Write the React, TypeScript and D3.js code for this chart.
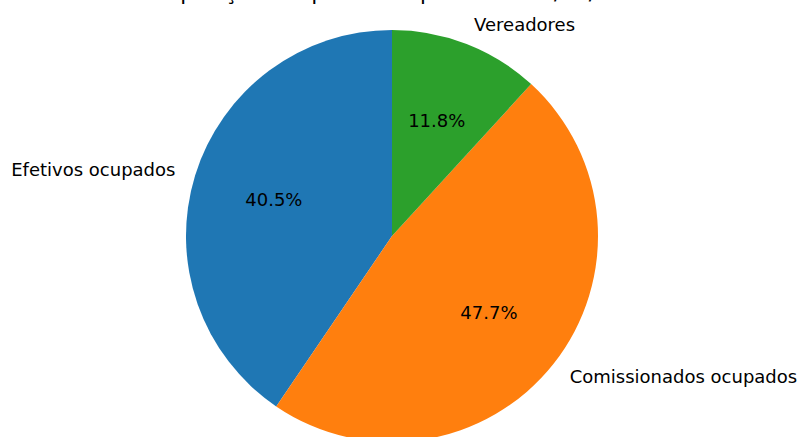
import React from "react";
import * as d3 from "d3";

const categories = ["Efetivos ocupados", "Comissionados ocupados", "Vereadores"];
const values = [40.5, 47.7, 11.8];
const colors = ["#1f77b4", "#ff7f0e", "#2ca02c"];
const title = "Composição do quadro de pessoal – 01/01/2025";

const W = 800;
const H = 437;
const cx = 392;
const cy = 236;
const R = 206;

export default function App() {
  const total = d3.sum(values);
  // matplotlib: startangle 90, counterclockwise
  const pie = d3
    .pie<number>()
    .sort(null)
    .startAngle(0)
    .endAngle(-2 * Math.PI)(values);
  const arc = d3.arc<d3.PieArcDatum<number>>().innerRadius(0).outerRadius(R);
  const font = "DejaVu Sans, sans-serif";
  const fs = 18;

  return (
    <svg
      width={W}
      height={H}
      style={{ position: "absolute", left: 0, top: 0 }}
    >
      <rect width={W} height={H} fill="#fff" />
      <text
        x={391}
        y={0}
        textAnchor="middle"
        fontFamily={font}
        fontSize={21.6}
        fill="#000"
      >
        {title}
      </text>
      <g transform={`translate(${cx},${cy})`}>
        {pie.map((d, i) => (
          <path key={i} d={arc(d) || ""} fill={colors[i]} />
        ))}
        {pie.map((d, i) => {
          const mid = (d.startAngle + d.endAngle) / 2; // d3 angle: 0 at top, clockwise
          const sx = Math.sin(mid);
          const sy = -Math.cos(mid);
          const lx = 1.1 * R * sx;
          const ly = 1.1 * R * sy;
          const px = 0.6 * R * sx;
          const py = 0.6 * R * sy;
          const pct = ((values[i] / total) * 100).toFixed(1) + "%";
          return (
            <g key={"t" + i}>
              <text
                x={lx}
                y={ly}
                textAnchor={lx > 0 ? "start" : "end"}
                dominantBaseline="central"
                fontFamily={font}
                fontSize={fs}
                fill="#000"
              >
                {categories[i]}
              </text>
              <text
                x={px}
                y={py}
                textAnchor="middle"
                dominantBaseline="central"
                fontFamily={font}
                fontSize={fs}
                fill="#000"
              >
                {pct}
              </text>
            </g>
          );
        })}
      </g>
    </svg>
  );
}
